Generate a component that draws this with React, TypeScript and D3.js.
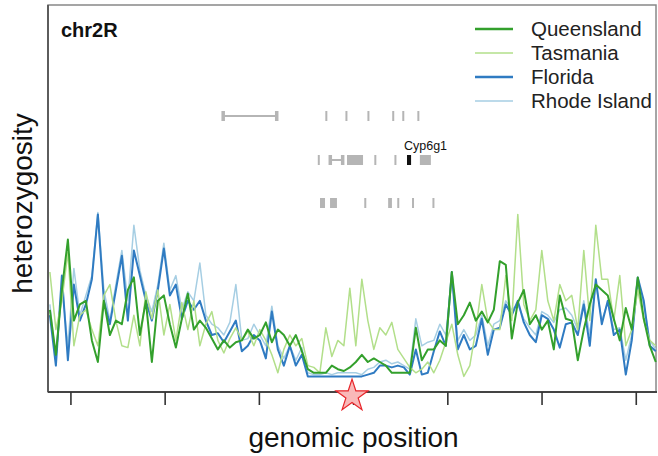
import * as d3 from 'd3';

// genomic windows along chr2R (Mb)
const windowStart = 2.33;
const windowStep = 0.191;

const queensland = [39, 14, 50, 78, 33, 42, 44, 22, 10, 44, 25, 33, 31, 50, 57, 25, 44, 10, 44, 47, 31, 18, 34, 48, 28, 33, 29, 23, 17, 22, 18, 21, 22, 28, 23, 25, 32, 21, 28, 25, 19, 25, 16, 6, 4, 4, 4, 8, 6, 5, 7, 10, 14, 10, 12, 10, 8, 4, 4, 4, 4, 29, 11, 17, 17, 22, 19, 60, 31, 36, 43, 33, 38, 32, 39, 66, 64, 23, 43, 50, 31, 36, 28, 33, 17, 47, 34, 33, 11, 28, 42, 53, 50, 47, 34, 22, 40, 28, 57, 34, 19, 10];
const tasmania = [60, 28, 44, 71, 19, 36, 39, 28, 19, 47, 53, 33, 19, 18, 36, 19, 49, 34, 50, 25, 42, 22, 43, 28, 44, 19, 31, 38, 22, 15, 23, 29, 22, 27, 19, 28, 22, 14, 4, 17, 25, 19, 23, 8, 7, 4, 29, 13, 22, 19, 51, 19, 56, 33, 17, 29, 25, 32, 17, 12, 7, 4, 6, 10, 4, 11, 21, 31, 14, 2, 8, 28, 53, 33, 28, 28, 58, 33, 92, 42, 33, 39, 72, 44, 33, 53, 44, 47, 28, 72, 33, 86, 56, 56, 33, 58, 19, 28, 50, 33, 22, 19];
const florida = [36, 8, 58, 11, 53, 33, 42, 56, 92, 44, 31, 50, 69, 33, 72, 58, 44, 33, 50, 73, 47, 53, 34, 44, 39, 44, 33, 25, 26, 21, 27, 33, 16, 19, 25, 22, 12, 38, 17, 8, 19, 8, 14, 2, 2, 2, 2, 2, 2, 2, 2, 2, 2, 3, 4, 8, 8, 7, 8, 7, 3, 17, 3, 4, 16, 27, 19, 60, 17, 25, 17, 19, 34, 14, 28, 29, 42, 36, 44, 32, 25, 21, 36, 34, 28, 18, 31, 32, 25, 42, 19, 56, 31, 44, 25, 28, 3, 22, 57, 44, 19, 16];
const rhodeIsland = [42, 11, 53, 19, 62, 36, 47, 58, 93, 50, 33, 53, 72, 44, 86, 61, 47, 38, 53, 76, 50, 58, 39, 49, 44, 65, 36, 31, 29, 25, 32, 53, 22, 23, 31, 25, 19, 41, 19, 12, 19, 11, 18, 4, 3, 3, 4, 3, 4, 4, 4, 4, 3, 6, 7, 10, 11, 9, 10, 8, 6, 34, 19, 21, 22, 31, 25, 58, 22, 28, 22, 25, 36, 19, 31, 33, 44, 39, 42, 34, 29, 25, 38, 36, 32, 39, 40, 36, 28, 44, 25, 54, 33, 43, 28, 29, 11, 25, 53, 42, 22, 17];

const seriesNames = ['Rhode Island', 'Florida', 'Tasmania', 'Queensland'];
const seriesValues = [rhodeIsland, florida, tasmania, queensland];
const seriesColors = ['#a6cee3', '#2f7bc2', '#b2df8a', '#33a02c'];
const seriesWidths = [1.5, 2, 1.5, 2];

const legendNames = ['Queensland', 'Tasmania', 'Florida', 'Rhode Island'];
const legendColors = ['#33a02c', '#b2df8a', '#2f7bc2', '#a6cee3'];
const legendWidths = [2.5, 1.5, 2.5, 1.5];

const tickPositions = [3, 6, 9, 12, 15, 18, 21];
const starPosition = 11.95;

// gene annotation tracks: [start, end, kind]
const geneRow1 = [[7.84, 9.56, 'span'], [11.1, 11.14, 'gene'], [11.74, 11.78, 'gene'], [12.44, 12.48, 'gene'], [13.23, 13.27, 'gene'], [13.55, 13.59, 'gene'], [14.03, 14.07, 'gene']];
const geneRow2 = [[10.86, 10.89, 'gene'], [11.25, 11.66, 'span'], [11.79, 12.3, 'gene'], [12.66, 12.7, 'gene'], [13.3, 13.34, 'gene'], [13.7, 13.83, 'target'], [14.11, 14.46, 'gene']];
const geneRow3 = [[10.93, 11.09, 'gene'], [11.25, 11.47, 'gene'], [12.34, 12.38, 'gene'], [13.1, 13.22, 'gene'], [13.39, 13.43, 'gene'], [13.86, 13.89, 'gene'], [14.51, 14.55, 'gene']];
const targetGene = 'Cyp6g1';

export default function App() {
  const W = 658;
  const H = 456;
  const left = 48, right = 657, top = 5, bottom = 392;

  const x = d3.scaleLinear().domain([2.27, 21.66]).range([left, right]);
  const y = d3.scaleLinear().domain([0, 100]).range([380, 200]);

  const line = d3.line<number>()
    .x((_, i) => x(windowStart + i * windowStep))
    .y(d => y(d));

  const star = d3.symbol().type(d3.symbolStar).size(320)();

  const rows = [geneRow1, geneRow2, geneRow3];
  const rowY = [116, 160, 203];
  const gray = '#b5b5b5';

  const font = '"Liberation Sans", Arial, sans-serif';

  return (
    <svg width={W} height={H} style={{ position: 'absolute', left: 0, top: 0, background: '#fff' }}
      fontFamily={font}>
      {/* frame */}
      <rect x={left} y={top} width={right - left - 1} height={bottom - top} fill="none" stroke="#888" strokeWidth={1.5} />
      <line x1={left} x2={left} y1={top} y2={bottom} stroke="#555" strokeWidth={1.8} />
      <line x1={left} x2={right} y1={bottom} y2={bottom} stroke="#444" strokeWidth={1.8} />

      {tickPositions.map(t => (
        <line key={t} x1={x(t)} x2={x(t)} y1={bottom} y2={bottom + 13} stroke="#333" strokeWidth={1.6} />
      ))}

      {/* gene tracks */}
      {rows.map((row, r) => (
        <g key={r}>
          {row.map(([s, e, kind], i) => {
            const x0 = x(s as number);
            const x1 = x(e as number);
            const cy = rowY[r];
            if (kind === 'span') {
              return (
                <g key={i}>
                  <line x1={x0} x2={x1} y1={cy} y2={cy} stroke={gray} strokeWidth={2} />
                  <rect x={x0 - 1.5} y={cy - 5} width={3.5} height={10} fill={gray} />
                  <rect x={x1 - 2} y={cy - 5} width={3.5} height={10} fill={gray} />
                </g>
              );
            }
            return (
              <rect key={i} x={x0} y={cy - 5} width={Math.max(2, x1 - x0)} height={10}
                fill={kind === 'target' ? '#111' : gray} />
            );
          })}
        </g>
      ))}
      <text x={x(13.7) - 3} y={rowY[1] - 10} fontSize={12.5} fill="#111">{targetGene}</text>

      {/* heterozygosity traces */}
      {seriesValues.map((vals, i) => (
        <path key={seriesNames[i]} d={line(vals) || ''} fill="none" stroke={seriesColors[i]}
          strokeWidth={seriesWidths[i]} strokeLinejoin="round" />
      ))}

      {/* star marker at Cyp6g1 */}
      <path d={star} transform={`translate(${x(starPosition)},${bottom + 4})`}
        fill="#f9b9b9" stroke="#e8262b" strokeWidth={1.2} />

      {/* title */}
      <text x={61} y={37} fontSize={20} fontWeight="bold" fill="#111">chr2R</text>

      {/* legend */}
      {legendNames.map((n, i) => (
        <g key={n} transform={`translate(0,${29 + i * 24})`}>
          <line x1={475} x2={513} y1={0} y2={0} stroke={legendColors[i]} strokeWidth={legendWidths[i]} />
          <text x={531} y={7} fontSize={20.5} fill="#222">{n}</text>
        </g>
      ))}

      {/* axis titles */}
      <text transform={`translate(32,${(top + bottom) / 2 + 5}) rotate(-90)`} textAnchor="middle"
        fontSize={28} fill="#111">heterozygosity</text>
      <text x={(left + right) / 2 + 1} y={447} textAnchor="middle" fontSize={28} fill="#111">genomic position</text>
    </svg>
  );
}
